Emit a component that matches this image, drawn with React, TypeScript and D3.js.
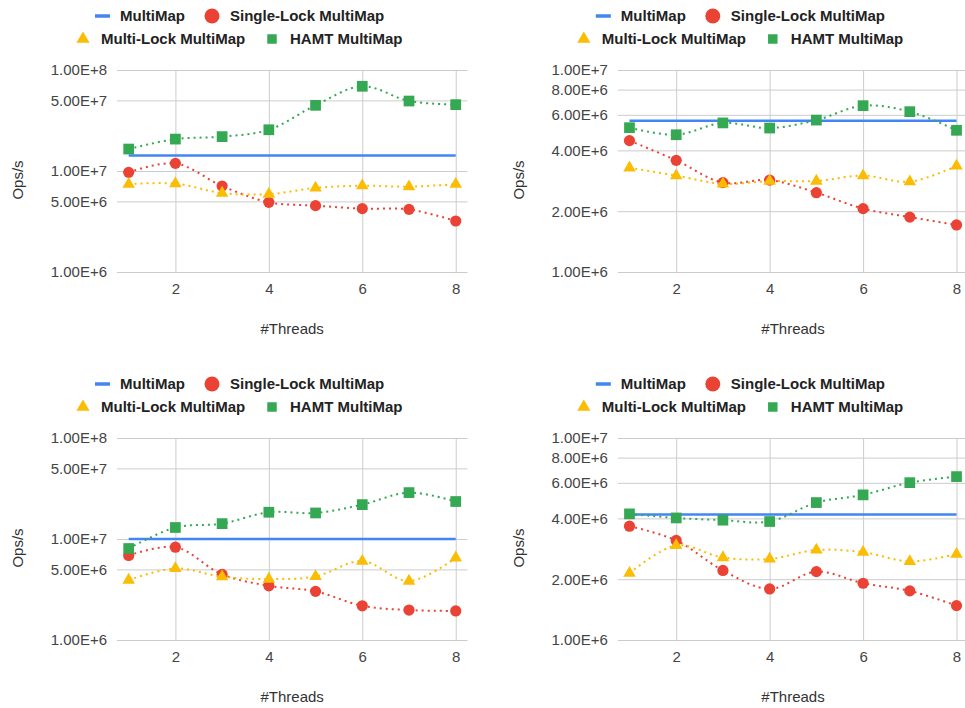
import React, { useEffect, useRef } from "react";
import * as d3 from "d3";

const threads = [1, 2, 3, 4, 5, 6, 7, 8];
const xTicks = [2, 4, 6, 8];

const seriesNames = ["MultiMap", "Single-Lock MultiMap", "Multi-Lock MultiMap", "HAMT MultiMap"];
const seriesColors = ["#4285f4", "#ea4335", "#fbbc04", "#34a853"];

const wideTicks = [1e6, 5e6, 1e7, 5e7, 1e8];
const narrowTicks = [1e6, 2e6, 4e6, 6e6, 8e6, 1e7];

// top left
const tlMultiMap = [1.42e7, 1.42e7, 1.42e7, 1.42e7, 1.42e7, 1.42e7, 1.42e7, 1.42e7];
const tlSingleLock = [9.7e6, 1.19e7, 7.1e6, 4.9e6, 4.54e6, 4.24e6, 4.17e6, 3.2e6];
const tlMultiLock = [7.4e6, 7.5e6, 6.05e6, 5.9e6, 6.8e6, 7.15e6, 7.0e6, 7.4e6];
const tlHamt = [1.65e7, 2.07e7, 2.19e7, 2.56e7, 4.47e7, 6.9e7, 4.93e7, 4.54e7];

// top right
const trMultiMap = [5.61e6, 5.61e6, 5.61e6, 5.61e6, 5.61e6, 5.61e6, 5.61e6, 5.61e6];
const trSingleLock = [4.47e6, 3.57e6, 2.77e6, 2.85e6, 2.47e6, 2.06e6, 1.87e6, 1.71e6];
const trMultiLock = [3.28e6, 3.0e6, 2.73e6, 2.82e6, 2.82e6, 3.0e6, 2.8e6, 3.35e6];
const trHamt = [5.18e6, 4.78e6, 5.47e6, 5.16e6, 5.65e6, 6.66e6, 6.22e6, 5.03e6];

// bottom left
const blMultiMap = [1.0e7, 1.0e7, 1.0e7, 1.0e7, 1.0e7, 1.0e7, 1.0e7, 1.0e7];
const blSingleLock = [6.87e6, 8.3e6, 4.46e6, 3.44e6, 3.03e6, 2.18e6, 1.98e6, 1.94e6];
const blMultiLock = [3.92e6, 5.11e6, 4.23e6, 4.01e6, 4.26e6, 6.04e6, 3.83e6, 6.51e6];
const blHamt = [8.05e6, 1.3e7, 1.42e7, 1.84e7, 1.81e7, 2.19e7, 2.88e7, 2.35e7];

// bottom right
const brMultiMap = [4.18e6, 4.18e6, 4.18e6, 4.18e6, 4.18e6, 4.18e6, 4.18e6, 4.18e6];
const brSingleLock = [3.66e6, 3.11e6, 2.21e6, 1.79e6, 2.18e6, 1.91e6, 1.75e6, 1.48e6];
const brMultiLock = [2.14e6, 2.94e6, 2.56e6, 2.52e6, 2.79e6, 2.72e6, 2.45e6, 2.66e6];
const brHamt = [4.21e6, 4.02e6, 3.92e6, 3.86e6, 4.79e6, 5.23e6, 6.01e6, 6.44e6];

const panels = [
  { dx: 0, dy: 0, domain: [1e6, 1e8], ticks: wideTicks, series: [tlMultiMap, tlSingleLock, tlMultiLock, tlHamt] },
  { dx: 500.8, dy: 0, domain: [1e6, 1e7], ticks: narrowTicks, series: [trMultiMap, trSingleLock, trMultiLock, trHamt] },
  { dx: 0, dy: 368, domain: [1e6, 1e8], ticks: wideTicks, series: [blMultiMap, blSingleLock, blMultiLock, blHamt] },
  { dx: 500.8, dy: 368, domain: [1e6, 1e7], ticks: narrowTicks, series: [brMultiMap, brSingleLock, brMultiLock, brHamt] },
];

const FONT = "'Liberation Sans', Arial, sans-serif";

const App: React.FC = () => {
  const svgRef = useRef<SVGSVGElement>(null);

  useEffect(() => {
    document.body.style.margin = "0";
    const svg = d3.select(svgRef.current);
    svg.selectAll("*").remove();

    const m = { left: 117, right: 467.4, top: 70, bottom: 272 };
    const fmt = (d: any) => d3.format(".2e")(d).toUpperCase();

    panels.forEach((p) => {
      const g = svg.append("g").attr("transform", `translate(${p.dx},${p.dy})`);

      const x = d3.scaleLinear().domain([0.75, 8.25]).range([m.left, m.right]);
      const y = d3.scaleLog().domain(p.domain).range([m.bottom, m.top]);

      // y axis + horizontal grid
      const ya = g
        .append("g")
        .attr("transform", `translate(${m.left},0)`)
        .call(
          d3
            .axisLeft(y)
            .tickValues(p.ticks)
            .tickFormat(fmt)
            .tickSize(-(m.right - m.left))
            .tickPadding(10)
        );
      ya.select(".domain").remove();
      ya.selectAll("line").attr("stroke", "#cccccc");
      ya.selectAll("text")
        .attr("fill", "#444")
        .attr("font-family", FONT)
        .attr("font-size", 15);

      // x axis + vertical grid
      const xa = g
        .append("g")
        .attr("transform", `translate(0,${m.bottom})`)
        .call(
          d3
            .axisBottom(x)
            .tickValues(xTicks)
            .tickFormat(d3.format("d"))
            .tickSize(-(m.bottom - m.top))
            .tickPadding(11)
        );
      xa.select(".domain").remove();
      xa.selectAll("line").attr("stroke", "#cccccc");
      xa.selectAll("text")
        .attr("fill", "#444")
        .attr("font-family", FONT)
        .attr("font-size", 15);

      g.append("text")
        .attr("x", (m.left + m.right) / 2)
        .attr("y", 329)
        .attr("dy", "0.35em")
        .attr("text-anchor", "middle")
        .attr("fill", "#333")
        .attr("font-family", FONT)
        .attr("font-size", 15)
        .text("#Threads");

      g.append("text")
        .attr("transform", "rotate(-90)")
        .attr("x", -180)
        .attr("y", 18)
        .attr("dy", "0.35em")
        .attr("text-anchor", "middle")
        .attr("fill", "#333")
        .attr("font-family", FONT)
        .attr("font-size", 15)
        .text("Ops/s");

      const line = d3
        .line<number>()
        .x((_, i) => x(threads[i]))
        .y((d) => y(d))
        .curve(d3.curveCatmullRom);

      p.series.forEach((vals, si) => {
        const path = g
          .append("path")
          .datum(vals)
          .attr("d", line)
          .attr("fill", "none")
          .attr("stroke", seriesColors[si]);
        if (si === 0) {
          path.attr("stroke-width", 2.5);
          return;
        }
        path.attr("stroke-width", 2).attr("stroke-dasharray", "2,4");

        const pts = g
          .append("g")
          .selectAll("path")
          .data(vals)
          .enter()
          .append("path")
          .attr("transform", (d, i) => `translate(${x(threads[i])},${y(d)})`)
          .attr("fill", seriesColors[si]);
        if (si === 1) pts.attr("d", d3.symbol(d3.symbolCircle, Math.PI * 5.6 * 5.6)());
        if (si === 2) pts.attr("d", d3.symbol(d3.symbolTriangle, 68)());
        if (si === 3) pts.attr("d", d3.symbol(d3.symbolSquare, 115)());
      });

      // legend
      const lg = g.append("g");
      const legendItems = [
        { sym: "line", cx: 102.5, cy: 16, tx: 120 },
        { sym: "circle", cx: 212, cy: 16, tx: 230 },
        { sym: "triangle", cx: 83, cy: 39, tx: 101 },
        { sym: "square", cx: 272, cy: 39, tx: 290 },
      ];
      legendItems.forEach((it, i) => {
        if (it.sym === "line") {
          lg.append("line")
            .attr("x1", it.cx - 7.5)
            .attr("x2", it.cx + 7.5)
            .attr("y1", it.cy)
            .attr("y2", it.cy)
            .attr("stroke", seriesColors[i])
            .attr("stroke-width", 3.5);
        } else {
          const type =
            it.sym === "circle" ? d3.symbolCircle : it.sym === "triangle" ? d3.symbolTriangle : d3.symbolSquare;
          const size = it.sym === "circle" ? Math.PI * 7.5 * 7.5 : it.sym === "triangle" ? 75 : 90;
          lg.append("path")
            .attr("transform", `translate(${it.cx},${it.cy})`)
            .attr("d", d3.symbol(type, size)())
            .attr("fill", seriesColors[i]);
        }
        lg.append("text")
          .attr("x", it.tx)
          .attr("y", it.cy)
          .attr("dy", "0.35em")
          .attr("fill", "#222")
          .attr("font-family", FONT)
          .attr("font-size", 15)
          .attr("font-weight", "bold")
          .text(seriesNames[i]);
      });
    });
  }, []);

  return (
    <svg
      ref={svgRef}
      width={965}
      height={708}
      style={{ display: "block", background: "#fff" }}
    />
  );
};

export default App;
